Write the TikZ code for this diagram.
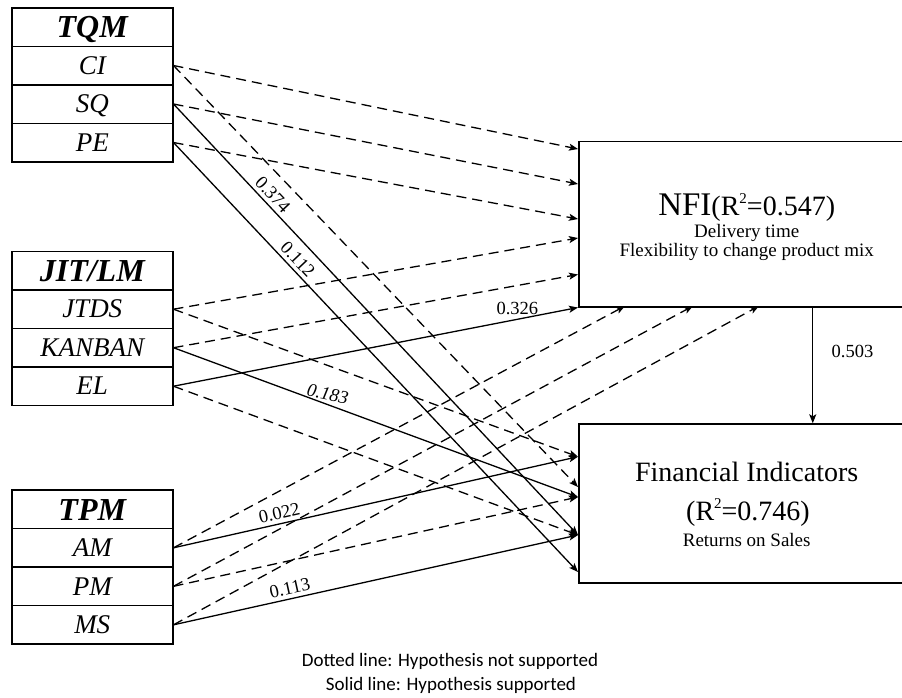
\documentclass[tikz,border=0pt]{standalone}
\usepackage{fontspec}
\setmainfont{Liberation Serif}
\newfontfamily\legendfont{Carlito}
\usetikzlibrary{arrows.meta,calc}
\newcommand{\rsq}{R\raisebox{0.42em}{\fontsize{15}{15}\selectfont 2}}
\begin{document}
\begin{tikzpicture}[x=1pt,y=-1pt,
  rowbox/.style={draw, line width=1.5pt, minimum width=161pt, minimum height=38.5pt, inner sep=0pt, anchor=north west, text height=17.5pt, text depth=0pt, font=\fontsize{27}{30}\selectfont\itshape},
  headbox/.style={rowbox, font=\fontsize{32}{36}\selectfont\bfseries\itshape, text height=21.5pt},
  bigbox/.style={draw, line width=1.5pt, anchor=north west, inner sep=0pt, minimum width=337pt},
  hyp/.style={line width=1.3pt, -{Stealth[length=9pt,width=7pt,inset=2pt]}},
  nothyp/.style={hyp, dash pattern=on 10pt off 6pt},
  coef/.style={font=\fontsize{18.5}{20}\selectfont},
  boxtext/.style={anchor=base, inner sep=0pt},
]
\clip (0,0) rectangle (902,697);
% left blocks
\node[headbox] (tqm) at (11,7) {TQM};
\node[rowbox] (ci) at (11,45.5) {CI};
\node[rowbox] (sq) at (11,84) {SQ};
\node[rowbox] (pe) at (11,122.5) {PE};
\node[headbox] (jit) at (11,250.7) {JIT/LM};
\node[rowbox] (jtds) at (11,289.2) {JTDS};
\node[rowbox] (kanban) at (11,327.7) {KANBAN};
\node[rowbox] (el) at (11,366.2) {EL};
\node[headbox] (tpm) at (11,489.3) {TPM};
\node[rowbox] (am) at (11,527.8) {AM};
\node[rowbox] (pm) at (11,566.3) {PM};
\node[rowbox] (ms) at (11,604.8) {MS};
% right blocks
\node[bigbox, minimum height=165.3pt] (nfi) at (578,140.7) {};
\node[bigbox, minimum height=159pt] (fin) at (578,423.3) {};
\node[boxtext] (nfit) at (746.7,215) {{\fontsize{33}{36}\selectfont NFI}{\fontsize{28}{32}\selectfont(\rsq=0.547)}};
\node[boxtext, font=\fontsize{19}{21}\selectfont] (nfid) at (746.7,237) {Delivery time};
\node[boxtext, font=\fontsize{19}{21}\selectfont] (nfif) at (746.7,256) {Flexibility to change product mix};
\node[boxtext, font=\fontsize{28}{32}\selectfont] (fint) at (746.7,481.7) {Financial Indicators};
\node[boxtext, font=\fontsize{28}{32}\selectfont] (finr) at (748,520) {(\rsq=0.746)};
\node[boxtext, font=\fontsize{19}{21}\selectfont] (fins) at (746.7,546.7) {Returns on Sales};
% target points
\coordinate (n1) at (578,149);
\coordinate (n2) at (578,184);
\coordinate (n3) at (578,219);
\coordinate (n4) at (578,238);
\coordinate (n5) at (578,274.5);
\coordinate (b1) at (625,306);
\coordinate (b2) at (693,306);
\coordinate (b3) at (759,306);
\coordinate (f1) at (578,456.7);
\coordinate (f2) at (578,487);
\coordinate (f3) at (578,497);
\coordinate (f4) at (578,535);
\coordinate (f5) at (578,572);
% connectors to NFI
\draw[nothyp] (ci.east) -- (n1);
\draw[nothyp] (sq.east) -- (n2);
\draw[nothyp] (pe.east) -- (n3);
\draw[nothyp] (jtds.east) -- (n4);
\draw[nothyp] (kanban.east) -- (n5);
\draw[hyp] (el.east) -- node[coef, pos=0.85, above, inner sep=4pt] {0.326} (nfi.south west);
\draw[nothyp] (am.east) -- (b1);
\draw[nothyp] (pm.east) -- (b2);
\draw[nothyp] (ms.east) -- (b3);
% connectors to Financial
\draw[nothyp] (ci.east) -- (f2);
\draw[hyp] (sq.east) -- node[coef, pos=0.227, sloped, above] {0.374} (f4);
\draw[hyp] (pe.east) -- node[coef, pos=0.289, sloped, above] {0.112} (f5);
\draw[nothyp] (jtds.east) -- (f1);
\draw[hyp] (kanban.east) -- node[coef, pos=0.376, rotate=-12, above, font=\fontsize{18.5}{20}\selectfont\itshape] {0.183} (f3);
\draw[nothyp] (el.east) -- (f4);
\draw[hyp] (am.east) -- node[coef, pos=0.267, sloped, above] {0.022} (f1);
\draw[nothyp] (pm.east) -- (f3);
\draw[hyp] (ms.east) -- node[coef, pos=0.293, sloped, above] {0.113} (f4);
% NFI -> Financial
\draw[hyp] ([xshift=65.5pt]nfi.south) -- node[coef, pos=0.38, right=15pt] {0.503} ([xshift=65.5pt]fin.north);
% legend
\node[anchor=base, font=\legendfont\fontsize{19}{22}\selectfont] (leg1) at (450,666.7) {Dotted line: Hypothesis not supported};
\node[anchor=base, font=\legendfont\fontsize{19}{22}\selectfont] (leg2) at (451,690) {Solid line: Hypothesis supported};
\end{tikzpicture}
\end{document}
